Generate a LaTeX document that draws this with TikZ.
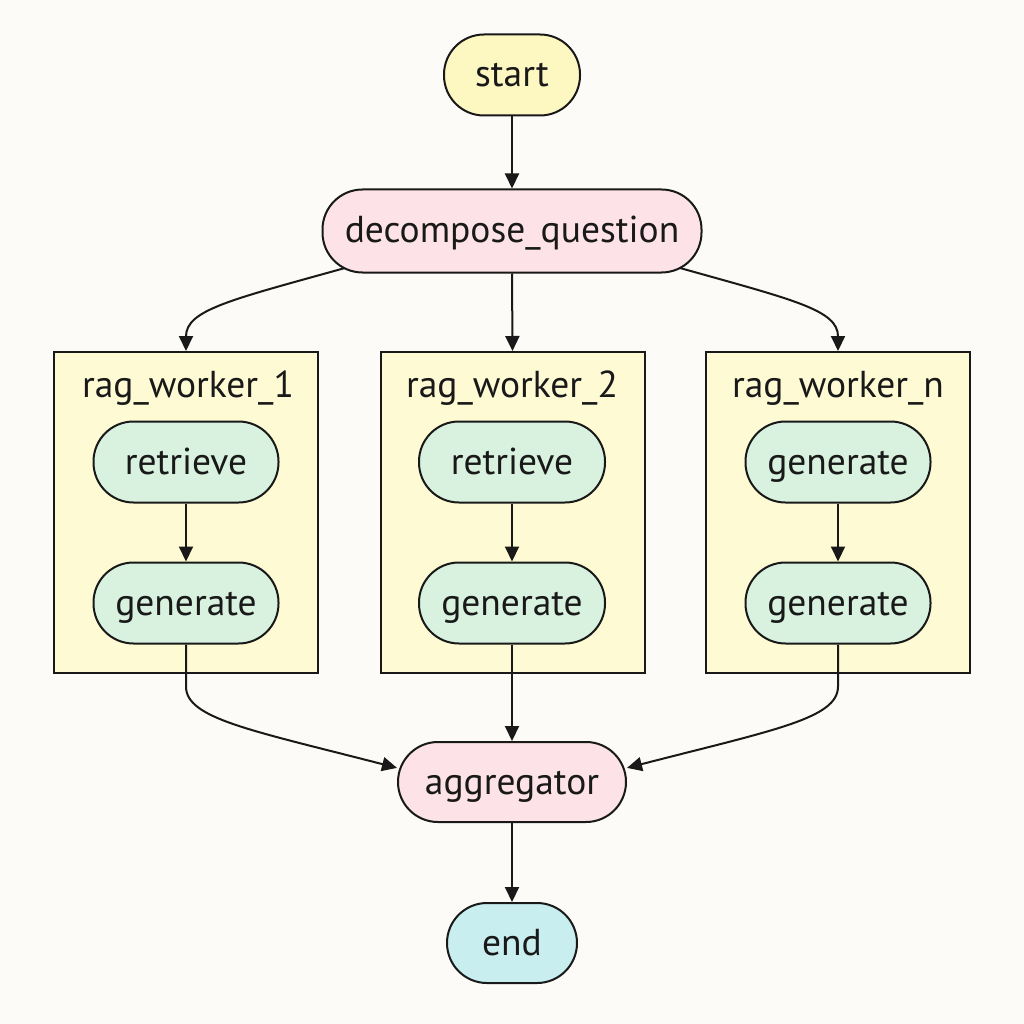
\documentclass[tikz,border=0pt]{standalone}
\usepackage{fontspec}
\setmainfont{PT Sans}
\usetikzlibrary{arrows.meta}
\definecolor{bg}{HTML}{FCFBF8}
\definecolor{yel}{HTML}{FDF8C2}
\definecolor{boxy}{HTML}{FEFAD4}
\definecolor{pink}{HTML}{FDE3E7}
\definecolor{grn}{HTML}{D8F2DF}
\definecolor{cyn}{HTML}{C8EEF0}
\begin{document}
\begin{tikzpicture}[x=1pt,y=-1pt,
  every node/.style={font=\fontsize{37.5}{44}\selectfont, text=black!90},
  pill/.style={draw=black!90, line width=2pt, rounded corners=40pt, minimum height=81pt, inner sep=0pt, text height=24pt, text depth=0pt},
  worker/.style={draw=black!90, line width=2pt, fill=boxy, minimum width=264pt, minimum height=321pt, inner sep=0pt},
  lbl/.style={anchor=base, inner sep=0pt},
  arr/.style={draw=black!90, line width=2pt, -{Triangle[length=15pt,width=14pt]}},
  ln/.style={draw=black!90, line width=2pt}]
\fill[bg] (0,0) rectangle (1024,1024);
\useasboundingbox (0,0) rectangle (1024,1024);

\node[pill, fill=yel, minimum width=136pt] (start) at (512,75) {start};
\node[pill, fill=pink, minimum width=379pt, minimum height=83pt] (dq) at (512,231) {decompose\_question};

\node[worker] (w1) at (186,512.5) {};
\node[worker] (w2) at (512.5,512.5) {};
\node[worker] (wn) at (838,512.5) {};

\node[lbl] (l1) at (188,397) {rag\_worker\_1};
\node[lbl] (l2) at (512,397) {rag\_worker\_2};
\node[lbl] (ln) at (838,397) {rag\_worker\_n};

\node[pill, fill=grn, minimum width=185pt] (r1) at (186,462) {retrieve};
\node[pill, fill=grn, minimum width=185pt] (g1) at (186,603) {generate};
\node[pill, fill=grn, minimum width=186pt] (r2) at (512,462) {retrieve};
\node[pill, fill=grn, minimum width=186pt] (g2) at (512,603) {generate};
\node[pill, fill=grn, minimum width=185pt] (rn) at (838,462) {generate};
\node[pill, fill=grn, minimum width=185pt] (gn) at (838,603) {generate};

\node[pill, fill=pink, minimum width=228pt, minimum height=80pt] (ag) at (512,782) {aggregator};
\node[pill, fill=cyn, minimum width=130pt, minimum height=80pt] (end) at (512,943) {end};

\coordinate (dqL) at (345,268);
\coordinate (dqR) at (680,268);

\draw[arr] (start.south) -- (dq.north);
\draw[arr] (dqL) .. controls (230,300) and (186,310) .. (w1.north);
\draw[arr] (dq.south) -- (w2.north);
\draw[arr] (dqR) .. controls (794,300) and (838,310) .. (wn.north);

\draw[arr] (r1.south) -- (g1.north);
\draw[arr] (r2.south) -- (g2.north);
\draw[arr] (rn.south) -- (gn.north);

\draw[arr] (g1.south) -- ++(0,42) .. controls +(0,32) and (250,730) .. (ag.173);
\draw[arr] (g2.south) -- (ag.north);
\draw[arr] (gn.south) -- ++(0,42) .. controls +(0,32) and (774,730) .. (ag.7);

\draw[arr] (ag.south) -- (end.north);
\end{tikzpicture}
\end{document}
